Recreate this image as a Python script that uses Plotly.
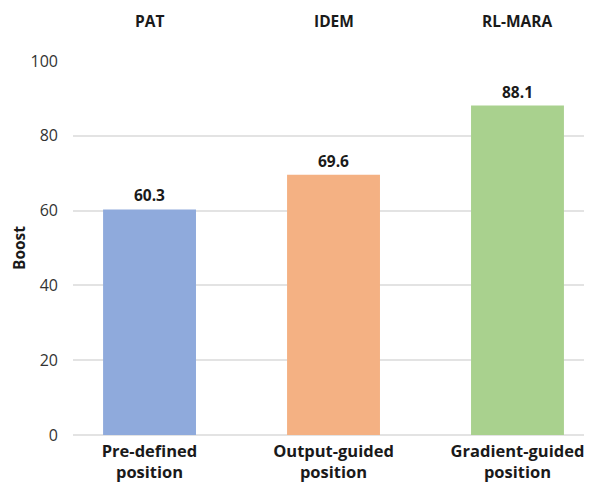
import plotly.graph_objects as go

categories = ["Pre-defined<br>position", "Output-guided<br>position", "Gradient-guided<br>position"]
methods = ["PAT", "IDEM", "RL-MARA"]
boost = [60.3, 69.6, 88.1]
colors = ["#8FAADC", "#F4B183", "#A9D18E"]

FONT = "Open Sans"

fig = go.Figure(go.Bar(
    x=categories, y=boost,
    marker=dict(color=colors, line=dict(width=0)),
    width=0.505,
    text=[f"<b>{v:.1f}</b>" for v in boost],
    textposition="outside",
    textfont=dict(size=15.5, color="#1a1a1a", family=FONT),
    cliponaxis=False,
))

for cat, name in zip(categories, methods):
    fig.add_annotation(x=cat, y=1, xref="x", yref="paper", yshift=53,
                       text=f"<b>{name}</b>", showarrow=False,
                       font=dict(size=15.5, color="#1a1a1a", family=FONT))

# page body has an 8px default margin, so the figure is sized to fit the window
fig.update_layout(
    width=584, height=477,
    margin=dict(l=65, r=0, t=53, b=50),
    plot_bgcolor="white", paper_bgcolor="white",
    font=dict(family=FONT, color="#222222"),
    showlegend=False,
)
fig.update_xaxes(range=[-0.416, 2.405], showgrid=False, showline=False, automargin=False,
                 ticklabelstandoff=4,
                 tickfont=dict(size=16.5, color="#1a1a1a", family=FONT),
                 tickprefix="<b>", ticksuffix="</b>")
fig.update_yaxes(range=[0, 100], dtick=20, showgrid=True, gridcolor="#e3e3e3", gridwidth=1.5,
                 zeroline=True, zerolinecolor="#e3e3e3", zerolinewidth=1.5, automargin=False,
                 showline=False, ticks="", ticklabelstandoff=14,
                 tickfont=dict(size=16, color="#333333", family=FONT),
                 title=dict(text="<b>Boost</b>", font=dict(size=15.5, color="#1a1a1a", family=FONT),
                            standoff=4))

fig.write_html("out.html")
